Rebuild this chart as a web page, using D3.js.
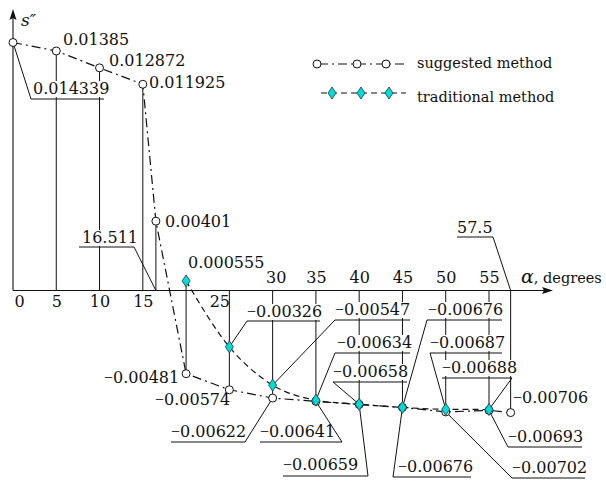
<!DOCTYPE html>
<html>
<head>
<meta charset="utf-8">
<script src="https://cdn.jsdelivr.net/npm/d3@7"></script>
<style>
  body { margin: 0; background: #fff; }
  svg { display: block; }
  text { font-family: "DejaVu Serif", serif; fill: #111; }
</style>
</head>
<body>
<div id="chart"></div>
<script>
// data
var alphaSug = [0, 5, 10, 15, 16.511, 20, 25, 30, 35, 40, 45, 50, 55, 57.5];
var suggested = [0.014339, 0.01385, 0.012872, 0.011925, 0.00401, -0.00481, -0.00574,
  -0.00622, -0.00641, -0.00659, -0.00676, -0.00702, -0.00693, -0.00706];
var alphaTrad = [20, 25, 30, 35, 40, 45, 50, 55];
var traditional = [0.000555, -0.00326, -0.00547, -0.00634, -0.00658, -0.00676, -0.00687, -0.00688];
var ticksBelow = [0, 5, 10, 15, 25];
var ticksAbove = [30, 35, 40, 45, 50, 55];
var axisMarks = [16.511, 57.5];
var seriesNames = ["suggested method", "traditional method"];

var svgWidth = 606;
var svgHeight = 493;

var svg = d3.select("#chart").append("svg")
  .attr("width", svgWidth)
  .attr("height", svgHeight);

var x = d3.scaleLinear().domain([0, 55]).range([13, 489]);
var y = d3.scaleLinear().domain([0, 0.014339]).range([290.5, 42.5]);

var sug = alphaSug.map((a, i) => ({a: a, v: suggested[i]}));
var tra = alphaTrad.map((a, i) => ({a: a, v: traditional[i]}));

// layers
var gDrop = svg.append("g");
var gBg = svg.append("g");
var gAxis = svg.append("g");
var gCurve = svg.append("g");
var gText = svg.append("g");
var gLead = svg.append("g");
var gMark = svg.append("g");

// vertical drop lines from axis to the points
var allAlpha = Array.from(new Set(alphaSug.concat(alphaTrad))).filter(a => a > 0);
allAlpha.forEach(function(a) {
  var vals = sug.filter(d => d.a === a).concat(tra.filter(d => d.a === a)).map(d => d.v);
  gDrop.append("line")
    .attr("x1", x(a)).attr("x2", x(a))
    .attr("y1", y(Math.max(0, d3.max(vals))))
    .attr("y2", y(Math.min(0, d3.min(vals))))
    .attr("stroke", "#111").attr("stroke-width", 1);
});

// axes lines with arrows
gAxis.append("line").attr("x1", x(0)).attr("x2", 548).attr("y1", y(0)).attr("y2", y(0))
  .attr("stroke", "#111").attr("stroke-width", 1.1);
gAxis.append("path").attr("d", `M553,${y(0)} L542,${y(0) - 3.5} L544,${y(0)} L542,${y(0) + 3.5} Z`).attr("fill", "#111");
gAxis.append("line").attr("x1", x(0)).attr("x2", x(0)).attr("y1", y(0)).attr("y2", 14)
  .attr("stroke", "#111").attr("stroke-width", 1.1);
gAxis.append("path").attr("d", `M${x(0)},9 L${x(0) - 3.5},20 L${x(0)},18 L${x(0) + 3.5},20 Z`).attr("fill", "#111");

// tick labels via d3 axes
var tickShift = {0: 6, 25: -10, 30: 3};
var axB = gAxis.append("g").attr("transform", `translate(0,${y(0)})`)
  .call(d3.axisBottom(x).tickValues(ticksBelow).tickSize(0).tickPadding(5).tickFormat(d3.format("d")));
var axT = gAxis.append("g").attr("transform", `translate(0,${y(0)})`)
  .call(d3.axisTop(x).tickValues(ticksAbove).tickSize(0).tickPadding(7.5).tickFormat(d3.format("d")));
[axB, axT].forEach(function(ax) {
  ax.select(".domain").remove();
  ax.selectAll("text")
    .attr("font-family", "DejaVu Serif").attr("font-size", 16).attr("fill", "#111")
    .attr("dx", d => tickShift[d] || 0);
});

// axis titles
svg.append("text").attr("x", 21).attr("y", 26)
  .attr("font-size", 17).attr("font-style", "italic").text("s\u2033");
var at = svg.append("text").attr("x", 521).attr("y", 283);
at.append("tspan").attr("font-size", 19).attr("font-style", "italic").text("\u03b1");
at.append("tspan").attr("font-size", 14.5).text(", degrees");

// curves
var line = d3.line().x(d => x(d.a)).y(d => y(d.v));
gCurve.append("path").datum(sug)
  .attr("d", line)
  .attr("fill", "none").attr("stroke", "#111").attr("stroke-width", 1.2)
  .attr("stroke-dasharray", "9,4,2,4");
gCurve.append("path").datum(tra)
  .attr("d", line.curve(d3.curveMonotoneX))
  .attr("fill", "none").attr("stroke", "#111").attr("stroke-width", 1.2)
  .attr("stroke-dasharray", "6,4");

function fmt(v) {
  return String(Math.abs(v));
}

// text label with a white patch behind it
function addLabel(txt, neg, tx, ty, size) {
  var t = gText.append("text").attr("x", tx).attr("y", ty).attr("font-size", size || 16);
  if (neg) t.append("tspan").attr("font-family", "Liberation Serif").text("\u2212");
  t.append("tspan").text(txt);
  var b = t.node().getBBox();
  gBg.append("rect")
    .attr("x", b.x - 1).attr("y", ty - 13)
    .attr("width", b.width + 2).attr("height", 16)
    .attr("fill", "#fff");
  return t;
}

// label placement: text x, baseline, underline [x1, x2, y], leader side
var labelLayout = [
  {s: "sug", i: 0, tx: 33, ty: 94, ul: [31, 104, 99], lead: "left"},
  {s: "sug", i: 1, tx: 63, ty: 45},
  {s: "sug", i: 2, tx: 109, ty: 66},
  {s: "sug", i: 3, tx: 149, ty: 88},
  {s: "sug", i: 4, tx: 165, ty: 227},
  {s: "sug", i: 5, tx: 104, ty: 383},
  {s: "sug", i: 6, tx: 155, ty: 405},
  {s: "sug", i: 7, tx: 171, ty: 437, ul: [171, 245, 442], lead: "right"},
  {s: "sug", i: 8, tx: 260, ty: 437, ul: [260, 342, 442], lead: "right"},
  {s: "sug", i: 9, tx: 283, ty: 470, ul: [283, 368, 476], lead: "right"},
  {s: "sug", i: 10, tx: 398, ty: 472, ul: [393, 471, 477], lead: "left"},
  {s: "sug", i: 11, tx: 512, ty: 473, ul: [512, 585, 478], lead: "left"},
  {s: "sug", i: 12, tx: 508, ty: 442, ul: [508, 582, 447], lead: "left"},
  {s: "sug", i: 13, tx: 513, ty: 403},
  {s: "tra", i: 0, tx: 188, ty: 268},
  {s: "tra", i: 1, tx: 247, ty: 317, ul: [247, 320, 321], lead: "left"},
  {s: "tra", i: 2, tx: 335, ty: 315, ul: [335, 410, 320], lead: "left"},
  {s: "tra", i: 3, tx: 337, ty: 348, ul: [335, 410, 353], lead: "left"},
  {s: "tra", i: 4, tx: 333, ty: 377, ul: [333, 407, 382], lead: "left"},
  {s: "tra", i: 5, tx: 428, ty: 315, ul: [427, 502, 320], lead: "left"},
  {s: "tra", i: 6, tx: 430, ty: 348, ul: [430, 502, 353], lead: "left"},
  {s: "tra", i: 7, tx: 442, ty: 373, ul: [442, 512, 378], lead: "right"}
];
var markLayout = [
  {tx: 82, ty: 243, ul: [79, 134, 247], lead: "right"},
  {tx: 457, ty: 233, ul: [457, 493, 237], lead: "right"}
];

function drawLeader(ul, lead, px, py) {
  gLead.append("line").attr("x1", ul[0]).attr("x2", ul[1]).attr("y1", ul[2]).attr("y2", ul[2])
    .attr("stroke", "#111").attr("stroke-width", 1);
  var sx = lead === "left" ? ul[0] : ul[1];
  gLead.append("line").attr("x1", sx).attr("y1", ul[2]).attr("x2", px).attr("y2", py)
    .attr("stroke", "#111").attr("stroke-width", 1);
}

labelLayout.forEach(function(L) {
  var d = L.s === "sug" ? sug[L.i] : tra[L.i];
  addLabel(fmt(d.v), d.v < 0, L.tx, L.ty);
  if (L.ul) drawLeader(L.ul, L.lead, x(d.a), y(d.v));
});
markLayout.forEach(function(L, i) {
  addLabel(String(axisMarks[i]), false, L.tx, L.ty);
  drawLeader(L.ul, L.lead, x(axisMarks[i]), y(0));
});

// markers
function diamond(g, cx, cy) {
  g.append("path")
    .attr("d", `M${cx},${cy - 6} L${cx + 4},${cy} L${cx},${cy + 6} L${cx - 4},${cy} Z`)
    .attr("fill", "#00dcdc").attr("stroke", "#1a3a3a").attr("stroke-width", 0.8);
}
function circle(g, cx, cy) {
  g.append("circle").attr("cx", cx).attr("cy", cy).attr("r", 4)
    .attr("fill", "#fff").attr("stroke", "#111").attr("stroke-width", 1);
}
sug.forEach(d => circle(gMark, x(d.a), y(d.v)));
tra.forEach(d => diamond(gMark, x(d.a), y(d.v)));

// legend
var leg = svg.append("g");
leg.append("line").attr("x1", 315).attr("x2", 405).attr("y1", 64).attr("y2", 64)
  .attr("stroke", "#111").attr("stroke-width", 1.2).attr("stroke-dasharray", "9,4,2,4")
  .attr("stroke-dashoffset", -4);
[317, 357, 386].forEach(cx => circle(leg, cx, 64));
leg.append("line").attr("x1", 321).attr("x2", 406).attr("y1", 93).attr("y2", 93)
  .attr("stroke", "#111").attr("stroke-width", 1.2).attr("stroke-dasharray", "6,4");
[332, 361, 389].forEach(cx => diamond(leg, cx, 93));
leg.append("text").attr("x", 417).attr("y", 68).attr("font-size", 14.5).text(seriesNames[0]);
leg.append("text").attr("x", 417).attr("y", 102).attr("font-size", 14.5).text(seriesNames[1]);
</script>
</body>
</html>
